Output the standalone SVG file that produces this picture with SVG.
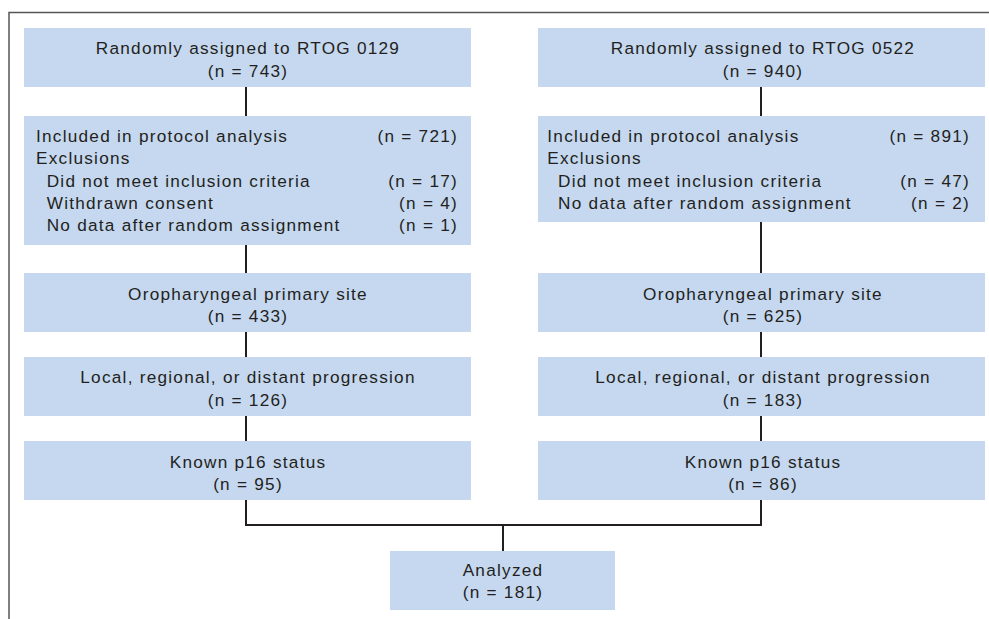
<svg xmlns="http://www.w3.org/2000/svg" width="989" height="619" viewBox="0 0 989 619">
<style>
.box{fill:#c5d8ef}
text{font-family:"Liberation Sans",Arial,sans-serif;font-size:17.2px;fill:#231f20;letter-spacing:1.25px}
.c{text-anchor:middle}
.e{text-anchor:end}
.ln{stroke:#231f20;stroke-width:2;fill:none}
.frame{stroke:#555;stroke-width:1.5;fill:none}
</style>
<rect width="989" height="619" fill="#fff"/>
<path class="frame" d="M9,619 V12.5 H989"/>
<g id="connectors">
<path class="ln" d="M246,87 V116 M246,245 V273 M246,332 V357 M246,416 V441 M246,500 V525"/>
<path class="ln" d="M761,87 V116 M761,222 V273 M761,332 V357 M761,416 V441 M761,500 V525"/>
<path class="ln" d="M245,525 H762 M503,525 V551"/>
</g>
<g id="l1"><rect class="box" x="24" y="28" width="447" height="59"/>
<text class="c" x="248" y="54">Randomly assigned to RTOG 0129</text>
<text class="c" x="248" y="76.7">(n = 743)</text></g>
<g id="l2"><rect class="box" x="24" y="116" width="447" height="129"/>
<text x="36" y="141.7">Included in protocol analysis</text>
<text class="e" x="458" y="141.7">(n = 721)</text>
<text x="36" y="164.3">Exclusions</text>
<text x="46.7" y="186.5">Did not meet inclusion criteria</text>
<text class="e" x="458" y="186.5">(n = 17)</text>
<text x="46.7" y="209">Withdrawn consent</text>
<text class="e" x="458" y="209">(n = 4)</text>
<text x="46.7" y="231.3">No data after random assignment</text>
<text class="e" x="458" y="231.3">(n = 1)</text></g>
<g id="l3"><rect class="box" x="24" y="273" width="447" height="59"/>
<text class="c" x="248" y="300">Oropharyngeal primary site</text>
<text class="c" x="248" y="321.7">(n = 433)</text></g>
<g id="l4"><rect class="box" x="24" y="357" width="447" height="59"/>
<text class="c" x="248" y="383.3">Local, regional, or distant progression</text>
<text class="c" x="248" y="405.7">(n = 126)</text></g>
<g id="l5"><rect class="box" x="24" y="441" width="447" height="59"/>
<text class="c" x="248" y="467.7">Known p16 status</text>
<text class="c" x="248" y="490">(n = 95)</text></g>
<g id="r1"><rect class="box" x="538" y="28" width="447" height="59"/>
<text class="c" x="763" y="54">Randomly assigned to RTOG 0522</text>
<text class="c" x="763" y="76.7">(n = 940)</text></g>
<g id="r2"><rect class="box" x="538" y="116" width="447" height="106"/>
<text x="547.3" y="141.7">Included in protocol analysis</text>
<text class="e" x="970" y="141.7">(n = 891)</text>
<text x="547.3" y="164.3">Exclusions</text>
<text x="558" y="186.5">Did not meet inclusion criteria</text>
<text class="e" x="970" y="186.5">(n = 47)</text>
<text x="558" y="209">No data after random assignment</text>
<text class="e" x="970" y="209">(n = 2)</text></g>
<g id="r3"><rect class="box" x="538" y="273" width="447" height="59"/>
<text class="c" x="763" y="300">Oropharyngeal primary site</text>
<text class="c" x="763" y="321.7">(n = 625)</text></g>
<g id="r4"><rect class="box" x="538" y="357" width="447" height="59"/>
<text class="c" x="763" y="383.3">Local, regional, or distant progression</text>
<text class="c" x="763" y="405.7">(n = 183)</text></g>
<g id="r5"><rect class="box" x="538" y="441" width="447" height="59"/>
<text class="c" x="763" y="467.7">Known p16 status</text>
<text class="c" x="763" y="490">(n = 86)</text></g>
<g id="analyzed"><rect class="box" x="390" y="551" width="225" height="59"/>
<text class="c" x="503" y="576">Analyzed</text>
<text class="c" x="503" y="598.3">(n = 181)</text></g>
</svg>
